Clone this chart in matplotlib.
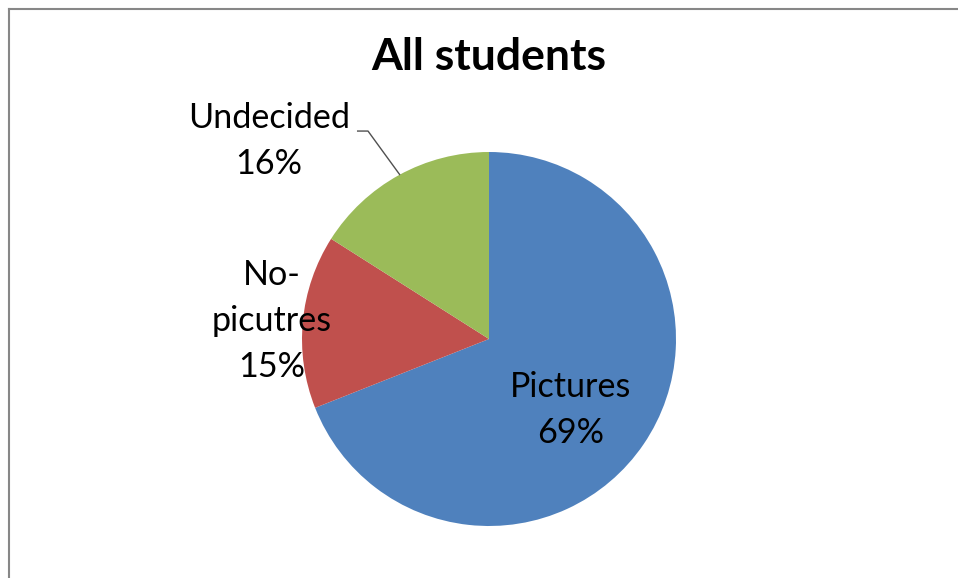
import matplotlib
matplotlib.use("Agg")
import matplotlib.pyplot as plt
from matplotlib.lines import Line2D

# Survey shares
categories = ["Pictures", "No-\npicutres", "Undecided"]
shares = [69, 15, 16]
colors = ["#4F81BD", "#C0504D", "#9BBB59"]
title = "All students"

# Label placement in pie data units (radius = 1): centre x, first-line baseline y
label_pos = [(0.4385, -0.310), (-1.160, 0.289), (-1.176, 1.131)]
line_step = 0.246

plt.rcParams["font.family"] = ["Lato", "DejaVu Sans"]

W, H, DPI = 958, 578, 100
fig = plt.figure(figsize=(W / DPI, H / DPI), dpi=DPI)
fig.patch.set_facecolor("white")

# Pie axes placed by pixel geometry
cx, cy, r = 489, 339, 187
ax = fig.add_axes([(cx - r) / W, (H - cy - r) / H, 2 * r / W, 2 * r / H])
ax.pie(shares, colors=colors, startangle=90, counterclock=False, radius=1,
       wedgeprops=dict(linewidth=0))
ax.set_xlim(-1, 1)
ax.set_ylim(-1, 1)
ax.set_aspect("equal")
ax.axis("off")

for cat, val, (lx, ly) in zip(categories, shares, label_pos):
    lines = cat.split("\n") + [f"{val}%"]
    for i, line in enumerate(lines):
        ax.text(lx, ly - i * line_step, line, ha="center", va="baseline",
                fontsize=24.6, color="black")

# Leader line for the Undecided label
ax.plot([-0.706, -0.647, -0.476], [1.112, 1.112, 0.877], color="#505050",
        lw=1.0, solid_capstyle="butt", clip_on=False)

fig.text(cx / W, 1 - 69.5 / H, title, ha="center", va="baseline",
         fontsize=32, fontweight="bold")

# Chart area frame (left and top edges visible)
edge = "#878787"
fig.add_artist(Line2D([8.5 / W, 8.5 / W], [0, 1 - 8.5 / H], color=edge,
                      lw=1.5, transform=fig.transFigure))
fig.add_artist(Line2D([8.5 / W, 1], [1 - 8.5 / H, 1 - 8.5 / H], color=edge,
                      lw=1.5, transform=fig.transFigure))

fig.savefig("out.png", dpi=DPI, facecolor="white")
